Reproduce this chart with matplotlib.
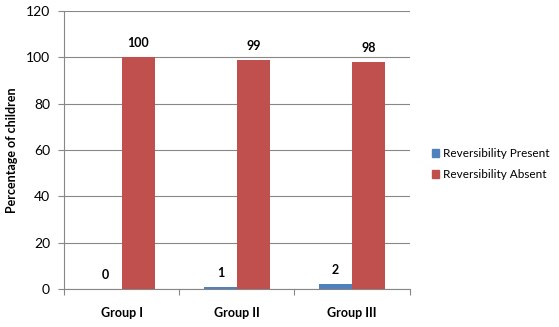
import matplotlib.pyplot as plt
import numpy as np
from matplotlib.patches import Patch

groups = ["Group I", "Group II", "Group III"]
present = [0, 1, 2]
absent = [100, 99, 98]
series_names = ["Reversibility Present", "Reversibility Absent"]

plt.rcParams["font.family"] = ["Lato", "DejaVu Sans"]

BLUE = "#4F81BD"
RED = "#C0504D"
GRID = "#878787"

fig = plt.figure(figsize=(5.59, 3.27), dpi=100)
ax = fig.add_axes([0.1145, 0.116, 0.6185, 0.85])

x = np.arange(len(groups))
w = 0.286
b1 = ax.bar(x - w / 2, present, w, color=BLUE, zorder=3)
b2 = ax.bar(x + w / 2, absent, w, color=RED, zorder=3)

for bars, vals in ((b1, present), (b2, absent)):
    for rect, v in zip(bars, vals):
        ax.text(rect.get_x() + rect.get_width() / 2, v + 3.5, f"{v}",
                ha="center", va="bottom", fontsize=9, fontweight="bold")

ax.set_xlim(-0.5, 2.5)
ax.set_ylim(0, 120)
ax.set_yticks(range(0, 121, 20))
ax.set_xticks([-0.5, 0.5, 1.5, 2.5])
ax.set_xticklabels([])
ax.set_xticks(x, minor=True)
ax.set_xticklabels(groups, minor=True, fontsize=9, fontweight="bold")
ax.tick_params(axis="x", which="major", length=4, color=GRID, direction="out")
ax.tick_params(axis="x", which="minor", length=0, pad=13)
ax.tick_params(axis="y", length=4, color=GRID, labelsize=10, pad=6)

ax.yaxis.grid(True, color=GRID, linewidth=0.8, zorder=0)
for s in ("top", "right"):
    ax.spines[s].set_visible(False)
ax.spines["left"].set_color(GRID)
ax.spines["bottom"].set_color(GRID)

ax.set_ylabel("Percentage of children", fontsize=9, fontweight="bold", labelpad=6)

handles = [Patch(color=BLUE), Patch(color=RED)]
fig.legend(handles, series_names, loc="center left", bbox_to_anchor=(0.773, 0.498),
           frameon=False, fontsize=8.5, handlelength=0.6, handleheight=0.6,
           handletextpad=0.35, labelspacing=0.85, borderpad=0, borderaxespad=0)

fig.savefig("out.png", dpi=100)
